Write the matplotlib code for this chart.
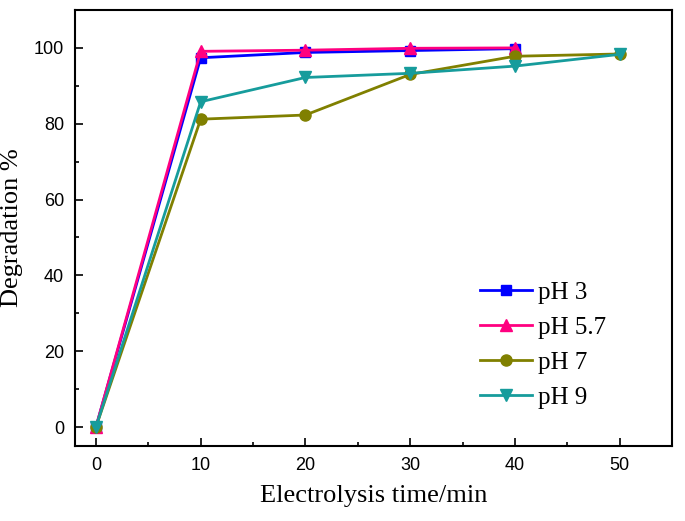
import numpy as np
import matplotlib.pyplot as plt
from matplotlib.ticker import MultipleLocator

# ---Datos
t = [0, 10, 20, 30, 40, 50]
ph3 = [0, 97.4, 98.8, 99.3, 99.8]
ph57 = [0, 99.1, 99.4, 99.9, 100.0]
ph7 = [0, 81.2, 82.3, 93.0, 97.8, 98.4]
ph9 = [0, 85.8, 92.2, 93.3, 95.2, 98.3]
labels = ['pH 3', 'pH 5.7', 'pH 7', 'pH 9']

fig = plt.figure(figsize=(6.85, 5.21), dpi=100)
ax = fig.add_axes([75/685, 75/521, 597/685, 436/521])

ax.plot(t[:5], ph3, '-s', color='#0000ff', ms=7, lw=2, label=labels[0])
ax.plot(t[:5], ph57, '-^', color='#ff0080', ms=8, lw=2, label=labels[1])
ax.plot(t, ph7, '-o', color='#808000', ms=8, lw=2, label=labels[2])
ax.plot(t, ph9, '-v', color='#169c9c', ms=8, lw=2, label=labels[3])

ax.set_xlim(-2, 55)
ax.set_ylim(-5, 110)
ax.xaxis.set_major_locator(MultipleLocator(10))
ax.xaxis.set_minor_locator(MultipleLocator(5))
ax.yaxis.set_major_locator(MultipleLocator(20))
ax.yaxis.set_minor_locator(MultipleLocator(10))
ax.tick_params(which='both', direction='in', top=False, right=False,
               labelsize=13, width=1.2, pad=8)
ax.tick_params(which='major', length=6)
ax.tick_params(which='minor', length=3)
for s in ax.spines.values():
    s.set_linewidth(1.5)
for lab in ax.get_xticklabels() + ax.get_yticklabels():
    lab.set_family('Liberation Sans')

ax.set_xlabel('Electrolysis time/min', fontsize=19, family='Liberation Serif', labelpad=8)
ax.set_ylabel('Degradation %', fontsize=19, family='Liberation Serif', labelpad=8)

ax.legend(loc='upper left', bbox_to_anchor=(0.64, 0.43), frameon=False,
          prop={'family': 'Liberation Serif', 'size': 18},
          handlelength=2.1, handletextpad=0.25, labelspacing=0.5)

fig.savefig('out.png', dpi=100)
